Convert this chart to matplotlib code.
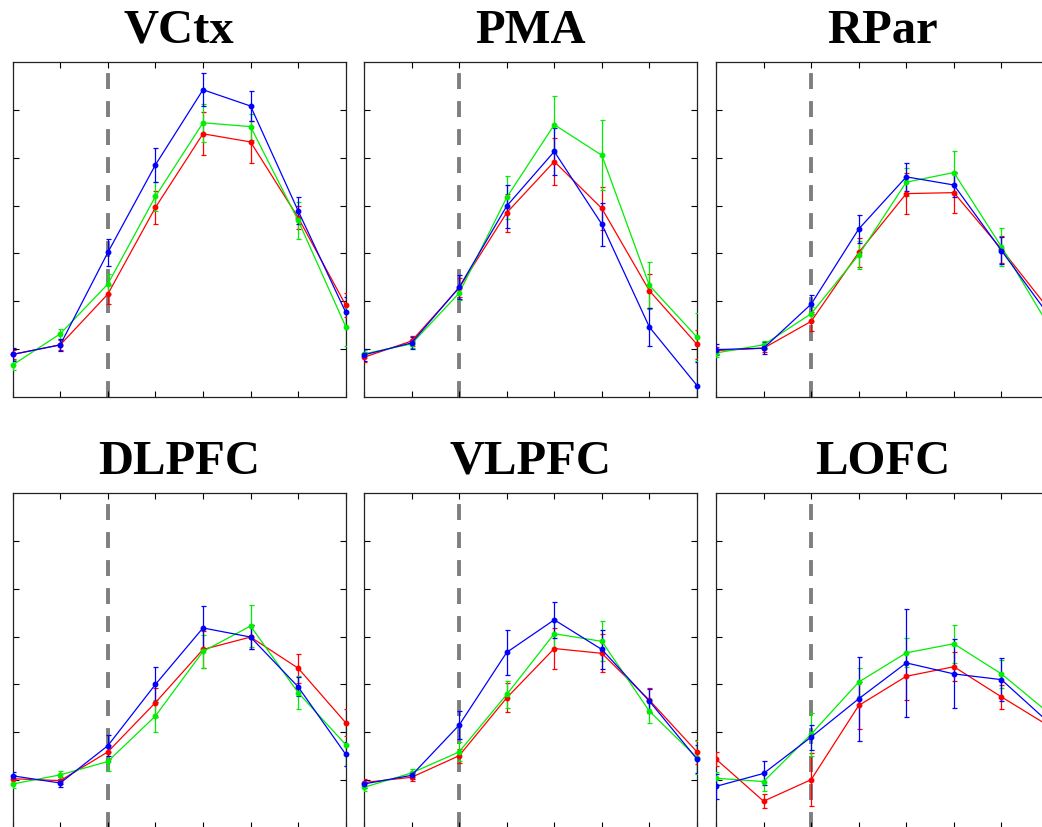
import matplotlib
matplotlib.use("Agg")
import matplotlib.pyplot as plt
import numpy as np

titles = ["VCtx", "PMA", "RPar", "DLPFC", "VLPFC", "LOFC"]
x = [0, 1, 2, 3, 4, 5, 6, 7]

red_vals = {
    "VCtx":  [0.89, 1.09, 2.15, 3.96, 5.50, 5.33, 3.75, 1.92],
    "PMA":   [0.83, 1.17, 2.28, 3.85, 4.92, 3.94, 2.22, 1.10],
    "RPar":  [0.97, 1.02, 1.58, 3.02, 4.25, 4.27, 3.09, 1.83],
    "DLPFC": [1.03, 0.99, 1.59, 2.62, 3.73, 3.99, 3.34, 2.20],
    "VLPFC": [0.95, 1.06, 1.51, 2.72, 3.75, 3.65, 2.67, 1.59],
    "LOFC":  [1.44, 0.56, 1.01, 2.56, 3.17, 3.37, 2.74, 2.13],
}
red_err = {
    "VCtx":  [0.10, 0.10, 0.20, 0.35, 0.45, 0.44, 0.25, 0.25],
    "PMA":   [0.10, 0.10, 0.20, 0.40, 0.50, 0.45, 0.35, 0.30],
    "RPar":  [0.08, 0.08, 0.20, 0.30, 0.43, 0.43, 0.28, 0.25],
    "DLPFC": [0.08, 0.08, 0.15, 0.30, 0.38, 0.25, 0.30, 0.28],
    "VLPFC": [0.08, 0.08, 0.15, 0.30, 0.43, 0.40, 0.25, 0.25],
    "LOFC":  [0.15, 0.15, 0.55, 0.50, 0.50, 0.30, 0.25, 0.25],
}
green_vals = {
    "VCtx":  [0.67, 1.32, 2.36, 4.19, 5.73, 5.65, 3.69, 1.47],
    "PMA":   [0.90, 1.11, 2.17, 4.17, 5.69, 5.05, 2.33, 1.25],
    "RPar":  [0.92, 1.09, 1.74, 2.97, 4.49, 4.69, 3.14, 1.48],
    "DLPFC": [0.92, 1.11, 1.39, 2.34, 3.69, 4.22, 2.83, 1.74],
    "VLPFC": [0.85, 1.15, 1.59, 2.79, 4.06, 3.90, 2.44, 1.47],
    "LOFC":  [1.04, 0.97, 1.96, 3.05, 3.66, 3.85, 3.22, 2.40],
}
green_err = {
    "VCtx":  [0.10, 0.10, 0.20, 0.30, 0.40, 0.27, 0.39, 0.40],
    "PMA":   [0.08, 0.08, 0.15, 0.45, 0.60, 0.73, 0.50, 0.50],
    "RPar":  [0.08, 0.08, 0.15, 0.30, 0.30, 0.45, 0.40, 0.30],
    "DLPFC": [0.08, 0.08, 0.20, 0.33, 0.35, 0.43, 0.35, 0.45],
    "VLPFC": [0.08, 0.08, 0.20, 0.28, 0.30, 0.42, 0.25, 0.35],
    "LOFC":  [0.12, 0.20, 0.45, 0.30, 0.30, 0.40, 0.30, 0.30],
}
blue_vals = {
    "VCtx":  [0.89, 1.09, 3.02, 4.85, 6.42, 6.08, 3.89, 1.77],
    "PMA":   [0.88, 1.13, 2.29, 3.99, 5.13, 3.61, 1.46, 0.24],
    "RPar":  [0.99, 1.02, 1.94, 3.51, 4.60, 4.43, 3.06, 1.70],
    "DLPFC": [1.09, 0.94, 1.72, 3.00, 4.18, 3.99, 2.95, 1.54],
    "VLPFC": [0.92, 1.10, 2.15, 3.67, 4.35, 3.73, 2.65, 1.44],
    "LOFC":  [0.87, 1.14, 1.90, 2.70, 3.45, 3.22, 3.10, 2.20],
}
blue_err = {
    "VCtx":  [0.13, 0.13, 0.28, 0.35, 0.34, 0.31, 0.28, 0.31],
    "PMA":   [0.12, 0.12, 0.25, 0.45, 0.50, 0.45, 0.40, 0.50],
    "RPar":  [0.12, 0.12, 0.20, 0.30, 0.30, 0.25, 0.28, 0.25],
    "DLPFC": [0.08, 0.08, 0.22, 0.37, 0.45, 0.25, 0.20, 0.25],
    "VLPFC": [0.08, 0.08, 0.29, 0.47, 0.37, 0.40, 0.25, 0.30],
    "LOFC":  [0.26, 0.25, 0.26, 0.88, 1.13, 0.72, 0.45, 0.35],
}

series = [
    ("#ff0000", red_vals, red_err),
    ("#00ee00", green_vals, green_err),
    ("#0000ff", blue_vals, blue_err),
]

W, H = 1042, 827
fig = plt.figure(figsize=(W / 100, H / 100), dpi=100)

col_left = [12.7, 364.0, 716.0]
row_top = [62.0, 493.0]
aw, ah = 333.0, 335.0

for i, name in enumerate(titles):
    r, c = divmod(i, 3)
    left = col_left[c] / W
    bottom = 1 - (row_top[r] + ah) / H
    ax = fig.add_axes([left, bottom, aw / W, ah / H])
    ax.axvline(2, color="#7f7f7f", lw=2.8, dashes=(4.1, 3.1), zorder=1)
    for color, vals, errs in series:
        line, caps, bars = ax.errorbar(x, vals[name], yerr=errs[name], color=color, lw=0.9,
                                       marker="o", ms=3.2, mec=color, mfc=color,
                                       elinewidth=0.9, capsize=1.8, capthick=0.9, zorder=3)
        line.set_clip_on(c == 2)
        for cp in caps:
            cp.set_clip_on(True)
        for b in bars:
            b.set_clip_on(True)
    ax.set_xlim(0, 7)
    ax.set_ylim(0, 7)
    ax.set_xticks(x)
    ax.set_yticks([1, 2, 3, 4, 5, 6])
    ax.tick_params(direction="in", length=4, width=0.8, top=True, right=True,
                   labelbottom=False, labelleft=False)
    for sp in ax.spines.values():
        sp.set_linewidth(0.9)
        sp.set_color("#222222")
    ax.set_title(name, fontsize=35, fontweight="bold", family="Liberation Serif", pad=14)

fig.savefig("out.png", dpi=100)
